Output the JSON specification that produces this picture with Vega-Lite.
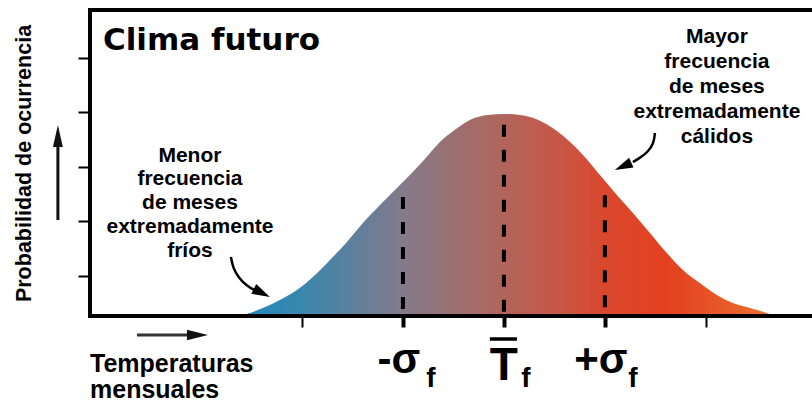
{
  "$schema": "https://vega.github.io/schema/vega-lite/v6.json",
  "width": 722,
  "height": 306,
  "autosize": {"type": "none"},
  "padding": {"left": 90, "top": 10, "right": 0, "bottom": 86},
  "background": "white",
  "config": {"view": {"stroke": null}, "font": "Liberation Sans"},
  "datasets": {
    "curve": [
      {"x": -2.645, "y": 0},
      {"x": -2.516, "y": 0.055},
      {"x": -2.387, "y": 0.146},
      {"x": -2.219, "y": 0.293},
      {"x": -2.05, "y": 0.476},
      {"x": -1.892, "y": 0.714},
      {"x": -1.723, "y": 1.025},
      {"x": -1.555, "y": 1.354},
      {"x": -1.397, "y": 1.702},
      {"x": -1.228, "y": 2.031},
      {"x": -1.06, "y": 2.343},
      {"x": -0.931, "y": 2.581},
      {"x": -0.792, "y": 2.855},
      {"x": -0.634, "y": 3.184},
      {"x": -0.475, "y": 3.422},
      {"x": -0.317, "y": 3.605},
      {"x": -0.158, "y": 3.679},
      {"x": 0, "y": 3.697},
      {"x": 0.158, "y": 3.679},
      {"x": 0.317, "y": 3.605},
      {"x": 0.475, "y": 3.45},
      {"x": 0.634, "y": 3.221},
      {"x": 0.792, "y": 2.928},
      {"x": 0.951, "y": 2.581},
      {"x": 1.119, "y": 2.214},
      {"x": 1.278, "y": 1.885},
      {"x": 1.446, "y": 1.519},
      {"x": 1.614, "y": 1.153},
      {"x": 1.773, "y": 0.842},
      {"x": 1.941, "y": 0.604},
      {"x": 2.11, "y": 0.384},
      {"x": 2.268, "y": 0.238},
      {"x": 2.437, "y": 0.146},
      {"x": 2.605, "y": 0.055},
      {"x": 2.684, "y": 0}
    ],
    "sigma": [
      {"x": -1, "top": 2.18},
      {"x": 0, "top": 3.5},
      {"x": 1, "top": 2.21}
    ],
    "arrowL": [
      {"i": 1, "x": -2.704, "y": 1.08},
      {"i": 2, "x": -2.684, "y": 0.878},
      {"i": 3, "x": -2.625, "y": 0.695},
      {"i": 4, "x": -2.546, "y": 0.549},
      {"i": 5, "x": -2.456, "y": 0.458}
    ],
    "arrowR": [
      {"i": 1, "x": 1.496, "y": 3.349},
      {"i": 2, "x": 1.486, "y": 3.166},
      {"i": 3, "x": 1.426, "y": 3.001},
      {"i": 4, "x": 1.347, "y": 2.892},
      {"i": 5, "x": 1.278, "y": 2.818}
    ]
  },
  "layer": [
    {
      "data": {"name": "curve"},
      "mark": {
        "type": "area",
        "interpolate": "monotone",
        "color": {
          "gradient": "linear",
          "x1": 0, "y1": 0, "x2": 1, "y2": 0,
          "stops": [
            {"offset": 0, "color": "#1e88bd"},
            {"offset": 0.12, "color": "#3a87ad"},
            {"offset": 0.22, "color": "#5f809c"},
            {"offset": 0.31, "color": "#857a8a"},
            {"offset": 0.41, "color": "#9d6f70"},
            {"offset": 0.5, "color": "#b2645a"},
            {"offset": 0.6, "color": "#c85646"},
            {"offset": 0.68, "color": "#d9482f"},
            {"offset": 0.8, "color": "#e4401f"},
            {"offset": 0.88, "color": "#e65326"},
            {"offset": 1, "color": "#ec7434"}
          ]
        }
      },
      "encoding": {
        "x": {
          "field": "x", "type": "quantitative",
          "scale": {"domain": [-4.1, 3.052], "nice": false, "zero": false},
          "axis": {
            "values": [-2, -1, 0, 1, 2],
            "labels": false, "domain": false, "grid": false, "title": null,
            "tickSize": 11, "tickColor": "black",
            "tickWidth": {"condition": {"test": "abs(datum.value) >= 2", "value": 2}, "value": 4}
          }
        },
        "y": {
          "field": "y", "type": "quantitative",
          "scale": {"domain": [0, 5.6], "nice": false, "zero": false},
          "axis": {
            "values": [0.73, 1.73, 2.73, 3.73, 4.73],
            "labels": false, "domain": false, "grid": false,
            "title": "Probabilidad de ocurrencia",
            "titleFont": "Liberation Sans", "titleFontSize": 21.5, "titleFontWeight": "bold",
            "titleColor": "black", "titlePadding": 47, "titleBaseline": "alphabetic",
            "tickSize": 12, "tickWidth": 2, "tickColor": "black"
          }
        }
      }
    },
    {
      "data": {"name": "sigma"},
      "mark": {"type": "rule", "color": "black", "strokeWidth": 4, "strokeDash": [12, 13]},
      "encoding": {
        "x": {"field": "x", "type": "quantitative"},
        "y": {"field": "top", "type": "quantitative"},
        "y2": {"datum": 0}
      }
    },
    {
      "data": {"values": [{}]},
      "mark": {"type": "rule", "color": "black", "strokeWidth": 4, "strokeCap": "square"},
      "encoding": {"y": {"datum": 0, "type": "quantitative"}}
    },
    {
      "data": {"values": [{}]},
      "mark": {"type": "rule", "color": "black", "strokeWidth": 4, "strokeCap": "square"},
      "encoding": {"y": {"datum": 5.6, "type": "quantitative"}}
    },
    {
      "data": {"values": [{}]},
      "mark": {"type": "rule", "color": "black", "strokeWidth": 4, "strokeCap": "square"},
      "encoding": {"x": {"datum": -4.1, "type": "quantitative"}}
    },
    {
      "data": {"values": [{"x": -1, "t": "-σ"}, {"x": 1, "t": "+σ"}]},
      "mark": {"type": "text", "font": "Liberation Sans", "fontWeight": "bold", "fontSize": 42, "align": "center", "baseline": "alphabetic", "dx": -4, "color": "black"},
      "encoding": {
        "x": {"field": "x", "type": "quantitative"},
        "y": {"datum": -1.043, "type": "quantitative"},
        "text": {"field": "t"}
      }
    },
    {
      "data": {"values": [{"x": 0, "t": "T"}]},
      "mark": {"type": "text", "font": "Liberation Sans", "fontWeight": "bold", "fontSize": 46, "align": "center", "baseline": "alphabetic", "color": "black"},
      "encoding": {
        "x": {"field": "x", "type": "quantitative"},
        "y": {"datum": -1.171, "type": "quantitative"},
        "text": {"field": "t"}
      }
    },
    {
      "data": {"values": [{"x": -1}, {"x": 1}]},
      "mark": {"type": "text", "text": "f", "font": "Liberation Sans", "fontWeight": "bold", "fontSize": 28, "align": "center", "baseline": "alphabetic", "dx": 28, "color": "black"},
      "encoding": {
        "x": {"field": "x", "type": "quantitative"},
        "y": {"datum": -1.3, "type": "quantitative"}
      }
    },
    {
      "data": {"values": [{"x": 0}]},
      "mark": {"type": "text", "text": "f", "font": "Liberation Sans", "fontWeight": "bold", "fontSize": 28, "align": "center", "baseline": "alphabetic", "dx": 22, "color": "black"},
      "encoding": {
        "x": {"field": "x", "type": "quantitative"},
        "y": {"datum": -1.3, "type": "quantitative"}
      }
    },
    {
      "data": {"values": [{}]},
      "mark": {"type": "rule", "color": "black", "strokeWidth": 3.5},
      "encoding": {
        "x": {"datum": -0.139, "type": "quantitative"},
        "x2": {"datum": 0.129},
        "y": {"datum": -0.421, "type": "quantitative"}
      }
    },
    {
      "data": {"values": [{}]},
      "mark": {"type": "text", "text": "Clima futuro", "font": "DejaVu Sans", "fontWeight": "bold", "fontSize": 31, "align": "left", "baseline": "alphabetic", "color": "black"},
      "encoding": {
        "x": {"datum": -3.972, "type": "quantitative"},
        "y": {"datum": 4.868, "type": "quantitative"}
      }
    },
    {
      "data": {"values": [{}]},
      "mark": {"type": "text", "text": ["Menor", "frecuencia", "de meses", "extremadamente", "fríos"], "font": "Liberation Sans", "fontWeight": "bold", "fontSize": 21, "lineHeight": 23.75, "align": "center", "baseline": "alphabetic", "color": "black"},
      "encoding": {
        "x": {"datum": -3.11, "type": "quantitative"},
        "y": {"datum": 2.824, "type": "quantitative"}
      }
    },
    {
      "data": {"values": [{}]},
      "mark": {"type": "text", "text": ["Mayor", "frecuencia", "de meses", "extremadamente", "cálidos"], "font": "Liberation Sans", "fontWeight": "bold", "fontSize": 21, "lineHeight": 25, "align": "center", "baseline": "alphabetic", "color": "black"},
      "encoding": {
        "x": {"datum": 2.11, "type": "quantitative"},
        "y": {"datum": 5.002, "type": "quantitative"}
      }
    },
    {
      "data": {"values": [{}]},
      "mark": {"type": "text", "text": ["Temperaturas", "mensuales"], "font": "Liberation Sans", "fontWeight": "bold", "fontSize": 25, "lineHeight": 26, "align": "left", "baseline": "alphabetic", "color": "black"},
      "encoding": {
        "x": {"datum": -4.1, "type": "quantitative"},
        "y": {"datum": -1.016, "type": "quantitative"}
      }
    },
    {
      "data": {"values": [{}]},
      "mark": {"type": "rule", "color": "#111111", "strokeWidth": 3},
      "encoding": {
        "x": {"datum": -4.418, "type": "quantitative"},
        "y": {"datum": 1.757, "type": "quantitative"},
        "y2": {"datum": 3.12}
      }
    },
    {
      "data": {"values": [{}]},
      "mark": {"type": "point", "shape": "M0,0L-0.45,2L0.45,2Z", "size": 484, "filled": true, "opacity": 1, "color": "#111111"},
      "encoding": {
        "x": {"datum": -4.418, "type": "quantitative"},
        "y": {"datum": 3.496, "type": "quantitative"}
      }
    },
    {
      "data": {"values": [{}]},
      "mark": {"type": "rule", "color": "#333333", "strokeWidth": 3},
      "encoding": {
        "x": {"datum": -3.635, "type": "quantitative"},
        "x2": {"datum": -3.12},
        "y": {"datum": -0.348, "type": "quantitative"}
      }
    },
    {
      "data": {"values": [{}]},
      "mark": {"type": "point", "shape": "M0,0L-2,-0.5L-2,0.5Z", "size": 441, "filled": true, "opacity": 1, "color": "#111111"},
      "encoding": {
        "x": {"datum": -2.932, "type": "quantitative"},
        "y": {"datum": -0.348, "type": "quantitative"}
      }
    },
    {
      "data": {"name": "arrowL"},
      "mark": {"type": "line", "interpolate": "basis", "color": "black", "strokeWidth": 2.5},
      "encoding": {
        "x": {"field": "x", "type": "quantitative"},
        "y": {"field": "y", "type": "quantitative"},
        "order": {"field": "i"}
      }
    },
    {
      "data": {"name": "arrowR"},
      "mark": {"type": "line", "interpolate": "basis", "color": "black", "strokeWidth": 2.5},
      "encoding": {
        "x": {"field": "x", "type": "quantitative"},
        "y": {"field": "y", "type": "quantitative"},
        "order": {"field": "i"}
      }
    },
    {
      "data": {"values": [{}]},
      "mark": {"type": "point", "shape": "M0,0L-2,-0.6L-2,0.6Z", "size": 324, "filled": true, "opacity": 1, "color": "black", "angle": 26.6},
      "encoding": {
        "x": {"datum": -2.318, "type": "quantitative"},
        "y": {"datum": 0.348, "type": "quantitative"}
      }
    },
    {
      "data": {"values": [{}]},
      "mark": {"type": "point", "shape": "M0,0L-2,-0.6L-2,0.6Z", "size": 324, "filled": true, "opacity": 1, "color": "black", "angle": 156},
      "encoding": {
        "x": {"datum": 1.099, "type": "quantitative"},
        "y": {"datum": 2.672, "type": "quantitative"}
      }
    }
  ]
}
